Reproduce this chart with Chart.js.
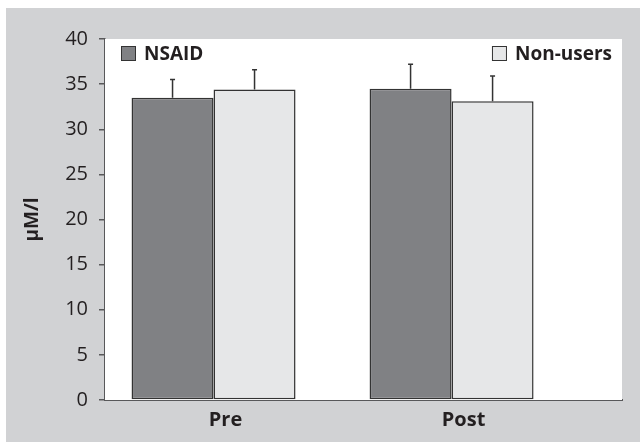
<!DOCTYPE html>
<html>
<head>
<meta charset="utf-8">
<script src="https://cdn.jsdelivr.net/npm/chart.js@4/dist/chart.umd.min.js"></script>
<style>
  html, body { margin: 0; padding: 0; background: #ffffff; }
  #wrap { position: absolute; left: 6px; top: 8px; width: 634px; height: 434px; background: #d1d2d4; }
  canvas { display: block; }
</style>
</head>
<body>
<div id="wrap"><canvas id="c" width="634" height="434"></canvas></div>
<script>
const categories = ['Pre', 'Post'];
const seriesNames = ['NSAID', 'Non-users'];
const nsaidMeans = [33.5, 34.5];
const nsaidErrors = [2.0, 2.7];
const nonUserMeans = [34.4, 33.1];
const nonUserErrors = [2.2, 2.8];
const yTicks = [0, 5, 10, 15, 20, 25, 30, 35, 40];
const yTitle = 'µM/l';

const FONT = '"Open Sans", "DejaVu Sans", sans-serif';
const TEXT = '#231f20';
const AXIS = '#58585a';

const toPoints = (vals) => vals.map((v, i) => ({ x: i + 1, y: v }));

const plotBg = {
  id: 'plotBg',
  beforeDatasetsDraw(chart) {
    const { ctx, chartArea: a } = chart;
    ctx.save();
    ctx.fillStyle = '#ffffff';
    ctx.fillRect(a.left, a.top, a.right - a.left, a.bottom - a.top);
    ctx.restore();
  }
};

const errorBars = {
  id: 'errorBars',
  afterDatasetsDraw(chart) {
    const { ctx } = chart;
    const yScale = chart.scales.y;
    ctx.save();
    ctx.strokeStyle = '#333333';
    ctx.lineWidth = 1.5;
    chart.data.datasets.forEach((ds, di) => {
      const meta = chart.getDatasetMeta(di);
      meta.data.forEach((el, i) => {
        const top = yScale.getPixelForValue(ds.data[i].y + ds.errors[i]);
        ctx.beginPath();
        ctx.moveTo(el.x, el.y);
        ctx.lineTo(el.x, top);
        ctx.moveTo(el.x - 2.5, top);
        ctx.lineTo(el.x + 2.5, top);
        ctx.stroke();
      });
    });
    ctx.restore();
  }
};

const cornerLegend = {
  id: 'cornerLegend',
  afterDraw(chart) {
    const { ctx, chartArea: a } = chart;
    const box = 15, gap = 8;
    ctx.save();
    ctx.font = 'bold 19px ' + FONT;
    ctx.textBaseline = 'alphabetic';
    chart.data.datasets.forEach((ds, di) => {
      const tw = ctx.measureText(ds.label).width;
      let bx;
      if (di === 0) bx = a.left + 16;
      else bx = a.right - 10 - tw - gap - box;
      const by = a.top + 7;
      ctx.fillStyle = ds.backgroundColor;
      ctx.fillRect(bx, by, box, box);
      ctx.strokeStyle = '#333333';
      ctx.lineWidth = 1;
      ctx.strokeRect(bx + 0.5, by + 0.5, box - 1, box - 1);
      ctx.fillStyle = TEXT;
      ctx.textAlign = 'left';
      ctx.fillText(ds.label, bx + box + gap, by + 14);
    });
    ctx.restore();
  }
};

new Chart(document.getElementById('c'), {
  type: 'bar',
  data: {
    datasets: [
      {
        label: seriesNames[0],
        data: toPoints(nsaidMeans),
        errors: nsaidErrors,
        backgroundColor: '#808184',
        borderColor: '#333333',
        borderWidth: 1.5,
        borderSkipped: false
      },
      {
        label: seriesNames[1],
        data: toPoints(nonUserMeans),
        errors: nonUserErrors,
        backgroundColor: '#e6e7e8',
        borderColor: '#333333',
        borderWidth: 1.5,
        borderSkipped: false
      }
    ]
  },
  options: {
    responsive: false,
    devicePixelRatio: 1,
    animation: false,
    categoryPercentage: 0.689,
    barPercentage: 1.0,
    layout: { padding: { left: 0, right: 18, top: 31, bottom: 0 } },
    plugins: {
      legend: { display: false },
      tooltip: { enabled: false }
    },
    scales: {
      x: {
        type: 'linear',
        offset: false,
        min: 0.544,
        max: 2.716,
        afterBuildTicks(scale) {
          scale.ticks = categories.map((c, i) => ({ value: i + 1 }));
        },
        afterFit(scale) { scale.height = 42; },
        grid: { display: false, drawTicks: false, offset: false },
        border: { display: true, color: AXIS, width: 2 },
        ticks: {
          padding: 8,
          labelOffset: 12,
          color: TEXT,
          font: { family: FONT, size: 20, weight: 'bold' },
          callback: (v) => categories[Math.round(v) - 1] ?? ''
        }
      },
      y: {
        min: 0,
        max: 40,
        afterBuildTicks(scale) {
          scale.ticks = yTicks.map(v => ({ value: v }));
        },
        afterFit(scale) { scale.width = 99; },
        grid: {
          drawOnChartArea: false,
          drawTicks: true,
          tickLength: 6,
          color: AXIS,
          lineWidth: 1.5
        },
        border: { display: true, color: AXIS, width: 1.5 },
        ticks: {
          padding: 11,
          color: TEXT,
          font: { family: FONT, size: 20 }
        },
        title: {
          display: true,
          text: yTitle,
          color: TEXT,
          font: { family: FONT, size: 19, weight: 'bold' },
          padding: { top: 15, bottom: 0 }
        }
      }
    }
  },
  plugins: [plotBg, errorBars, cornerLegend]
});
</script>
</body>
</html>
